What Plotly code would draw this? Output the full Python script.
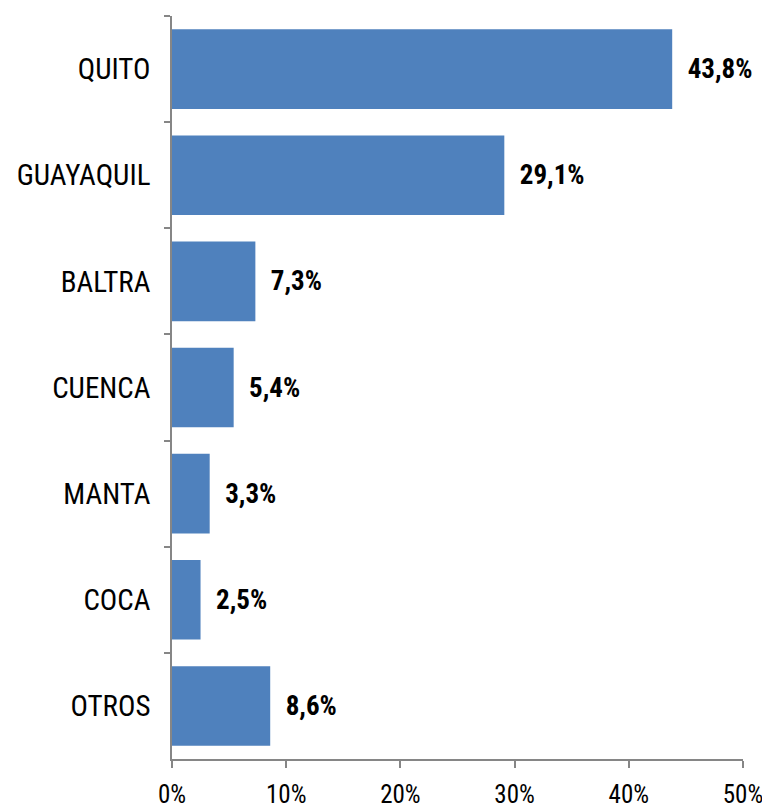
import plotly.graph_objects as go

ciudades = ['QUITO', 'GUAYAQUIL', 'BALTRA', 'CUENCA', 'MANTA', 'COCA', 'OTROS']
porcentajes = [43.8, 29.1, 7.3, 5.4, 3.3, 2.5, 8.6]
etiquetas = ['43,8%', '29,1%', '7,3%', '5,4%', '3,3%', '2,5%', '8,6%']

fuente = 'Roboto Condensed, Liberation Sans Narrow, DejaVu Sans Condensed, sans-serif'

fig = go.Figure()
fig.add_trace(go.Bar(
    y=ciudades, x=porcentajes, orientation='h',
    marker=dict(color='#4F81BD', line=dict(width=0)),
    text=['  ' + t for t in etiquetas], textposition='outside',
    textfont=dict(family=fuente, size=27, color='black', weight='bold'),
    cliponaxis=False,
))

# la página añade ~8px de margen al cuerpo, por eso 762x802
fig.update_layout(
    width=762, height=802,
    margin=dict(l=164, r=27, t=8, b=51),
    plot_bgcolor='white', paper_bgcolor='white',
    bargap=0.25, showlegend=False,
    font=dict(family=fuente, size=29, color='black'),
)
fig.update_xaxes(
    range=[0, 50], tickvals=[0, 10, 20, 30, 40, 50],
    ticktext=['0%', '10%', '20%', '30%', '40%', '50%'],
    showgrid=False, zeroline=False, showline=True, linecolor='#868686', linewidth=1.5,
    ticks='outside', ticklen=7, tickcolor='#868686', tickwidth=1.5,
    tickfont=dict(size=25), automargin=False, ticklabelstandoff=5,
)
fig.update_yaxes(
    categoryorder='array', categoryarray=ciudades, autorange='reversed',
    showgrid=False, showline=True, linecolor='#868686', linewidth=1.5,
    ticks='outside', ticklen=6, tickcolor='#868686', tickwidth=1.5,
    tickson='boundaries', ticklabelstandoff=14, automargin=False,
)

fig.write_html("out.html")
